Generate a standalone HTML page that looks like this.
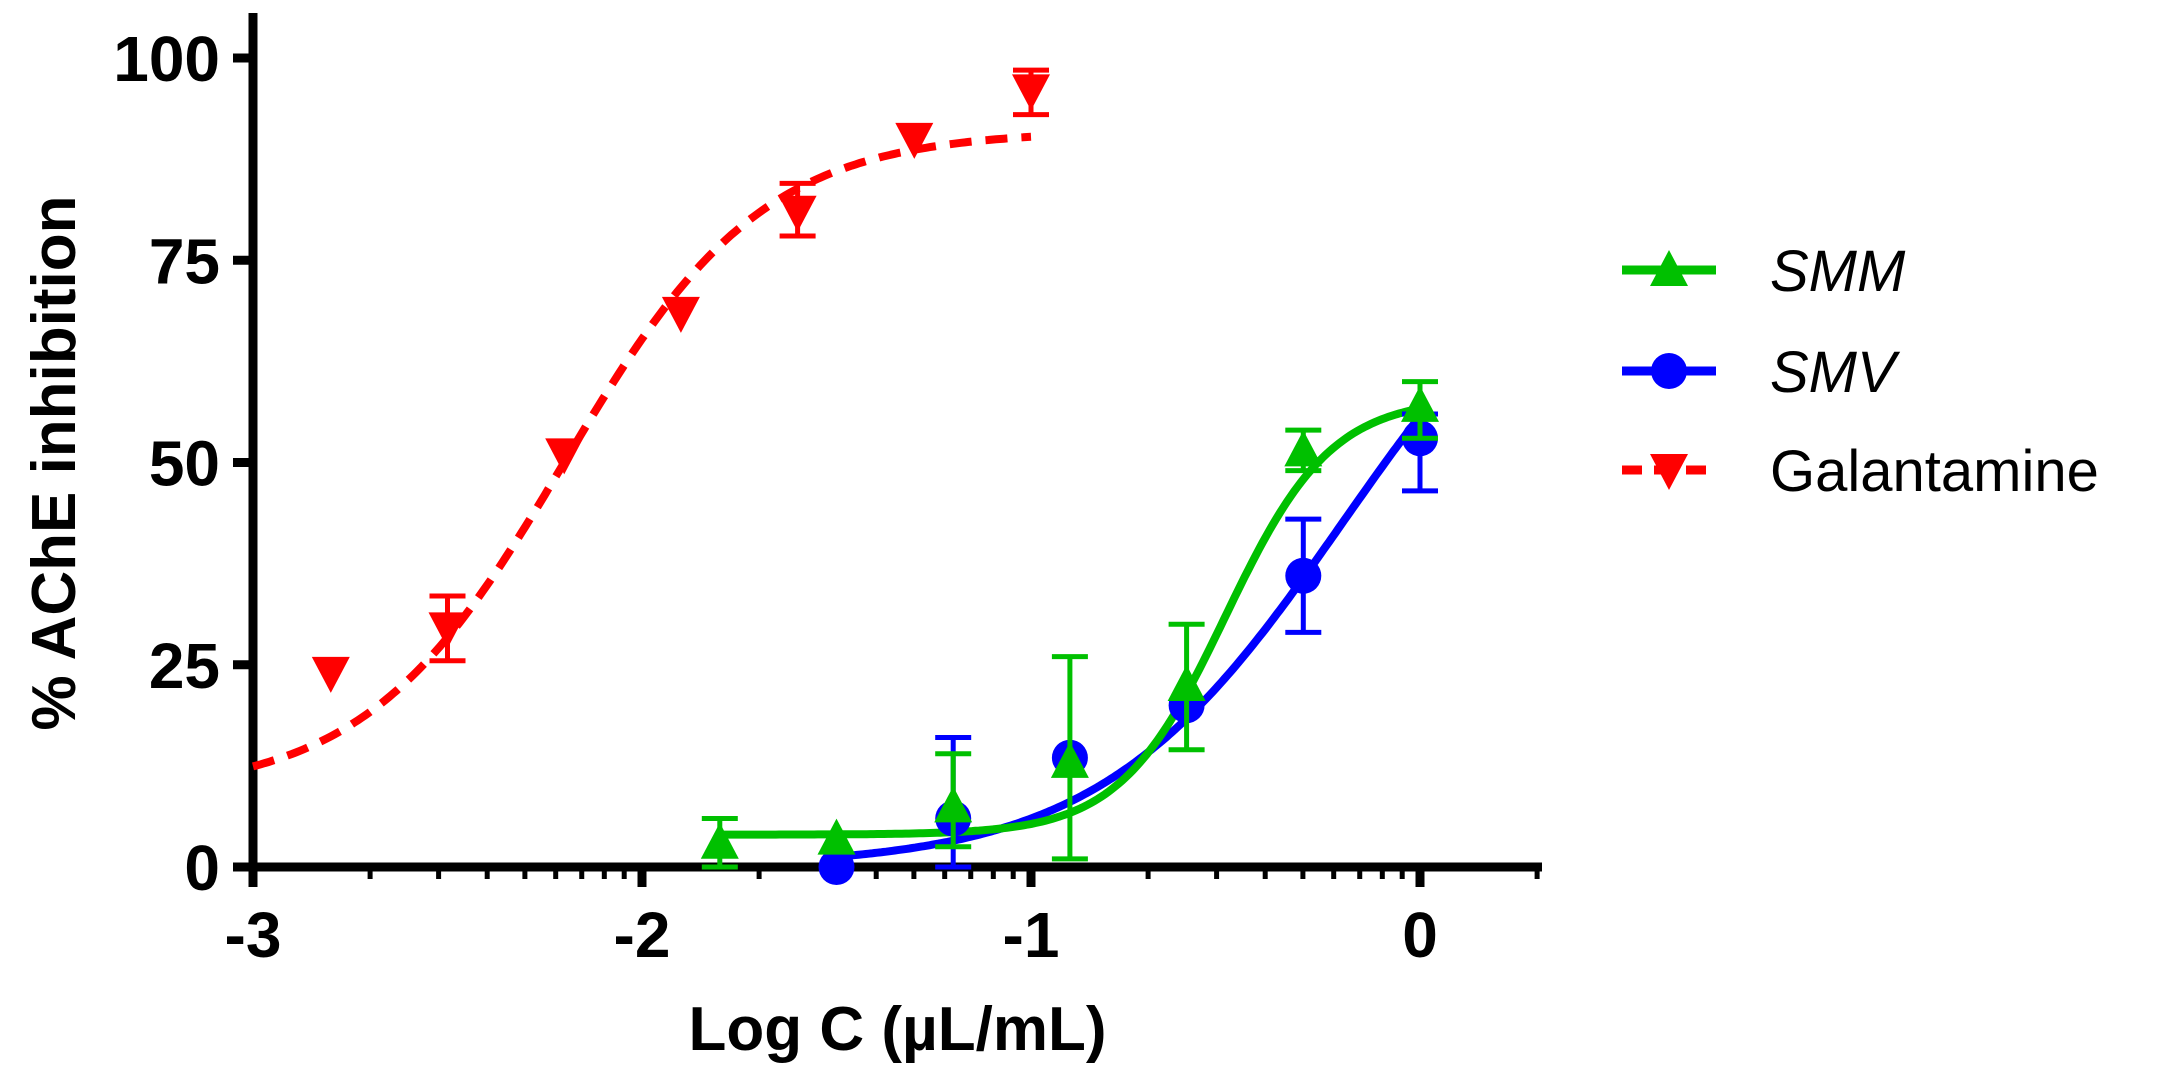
<!DOCTYPE html>
<html><head><meta charset="utf-8"><style>
html,body{margin:0;padding:0;background:#fff}
svg{display:block}
text{font-family:"Liberation Sans",Arial,sans-serif}
</style></head><body>
<svg id="chart" width="2157" height="1077" viewBox="0 0 2157 1077" xmlns="http://www.w3.org/2000/svg">
<g id="axes"></g>
<g id="plot"></g>
<g id="legend"></g>
</svg>
<script>
const xTicks=[-3,-2,-1,0];
const xTickLabels=["-3","-2","-1","0"];
const yTicks=[0,25,50,75,100];
const yTickLabels=["0","25","50","75","100"];
const galX=[-2.8,-2.5,-2.2,-1.9,-1.6,-1.3,-1.0];
const galY=[24,29.5,51,68.5,81,90,96];
const galLo=[24,25.5,51,68.5,78,90,93];
const galHi=[24,33.5,51,68.5,84.5,90,98.5];
const galFit=[9,91,-2.2,1.7];
const smmX=[-1.8,-1.5,-1.2,-0.9,-0.6,-0.3,0];
const smmY=[3,3.5,7.5,13,22.5,51.5,57];
const smmLo=[0,3.5,2.5,1,14.5,49,53];
const smmHi=[6,3.5,14,26,30,54,60];
const smmFit=[4,58,-0.5,3.2];
const smvX=[-1.5,-1.2,-0.9,-0.6,-0.3,0];
const smvY=[0,6,13.5,20,36,53];
const smvLo=[0,0,13.5,20,29,46.5];
const smvHi=[0,16,13.5,20,43,56];
const smvFit=[0,85,-0.2,1.4];

const NS="http://www.w3.org/2000/svg";
const X0=253,X1=1420,Y0=867,Y1=58;
function sx(v){return X0+(v-(-3))*(X1-X0)/3;}
function sy(v){return Y0+(v)*(Y1-Y0)/100;}
function mk(tag,attrs,parent){const e=document.createElementNS(NS,tag);for(const k in attrs)e.setAttribute(k,attrs[k]);parent.appendChild(e);return e;}
const axes=document.getElementById('axes'),plot=document.getElementById('plot'),legend=document.getElementById('legend');

let e;
e=mk('line',{x1:X0,y1:13,x2:X0,y2:Y0+4,stroke:'#000','stroke-width':9},axes);

e=mk('line',{x1:X0-4,y1:Y0,x2:1542,y2:Y0,stroke:'#000','stroke-width':9},axes);

yTicks.forEach((v,i)=>{
  let t=mk('line',{x1:X0-20,y1:sy(v),x2:X0,y2:sy(v),stroke:'#000','stroke-width':9},axes);
  
  let l=mk('text',{x:X0-33,y:sy(v)+23,'text-anchor':'end','font-size':64,'font-weight':'bold'},axes);
  l.textContent=yTickLabels[i];
  
});
xTicks.forEach((v,i)=>{
  let t=mk('line',{x1:sx(v),y1:Y0,x2:sx(v),y2:Y0+20,stroke:'#000','stroke-width':9},axes);
  
  let l=mk('text',{x:sx(v),y:Y0+90,'text-anchor':'middle','font-size':64,'font-weight':'bold'},axes);
  l.textContent=xTickLabels[i];
  
});
for(let d=-3;d<=0;d++){for(let m=2;m<=9;m++){const v=d+Math.log10(m);if(v>0.31)continue;
  let t=mk('line',{x1:sx(v),y1:Y0,x2:sx(v),y2:Y0+12,stroke:'#000','stroke-width':5},axes);
  }}
e=mk('text',{x:(X0+1542)/2,y:1050,'text-anchor':'middle','font-size':62,'font-weight':'bold'},axes);
e.textContent='Log C (µL/mL)';
e=mk('text',{x:0,y:0,'text-anchor':'middle','font-size':62,'font-weight':'bold',transform:'translate(75,463) rotate(-90)'},axes);
e.textContent='% AChE inhibition';

function fit(p,x){return p[0]+(p[1]-p[0])/(1+Math.pow(10,(p[2]-x)*p[3]));}
function curve(p,a,b,color,dash,name){let d='';for(let i=0;i<=200;i++){const x=a+(b-a)*i/200;d+=(i?'L':'M')+sx(x).toFixed(1)+','+sy(fit(p,x)).toFixed(1);}
  const c=mk('path',{d:d,fill:'none',stroke:color,'stroke-width':8,'stroke-dasharray':dash||'none'},plot);
  }
function marker(type,cx,cy,color,parent){
  if(type==='circle')return mk('circle',{cx:cx,cy:cy,r:18,fill:color},parent);
  if(type==='up')return mk('polygon',{points:`${cx},${cy-20} ${cx-19},${cy+16} ${cx+19},${cy+16}`,fill:color},parent);
  return mk('polygon',{points:`${cx},${cy+20} ${cx-19},${cy-16} ${cx+19},${cy-16}`,fill:color},parent);}
function series(xs,ys,lo,hi,color,type,name){xs.forEach((x,i)=>{
  if(hi[i]!==lo[i]){const g=mk('path',{d:`M${sx(x)},${sy(lo[i])}V${sy(hi[i])}M${sx(x)-18},${sy(lo[i])}h36M${sx(x)-18},${sy(hi[i])}h36`,stroke:color,'stroke-width':5,fill:'none'},plot);
    }
  const m=marker(type,sx(x),sy(ys[i]),color,plot);
  });}
curve(galFit,-3,-1,'#ff0000','22,14','galantamine-curve');
curve(smvFit,-1.5,0,'#0000ff',null,'smv-curve');
curve(smmFit,-1.8,0,'#00c000',null,'smm-curve');
series(smvX,smvY,smvLo,smvHi,'#0000ff','circle','smv');
series(smmX,smmY,smmLo,smmHi,'#00c000','up','smm');
series(galX,galY,galLo,galHi,'#ff0000','down','galantamine');

const leg=[['SMM','#00c000','up',270,null,'italic'],['SMV','#0000ff','circle',371,null,'italic'],['Galantamine','#ff0000','down',470,'20,12','normal']];
leg.forEach(r=>{
  const g=mk('g',{},legend);
  const l=mk('line',{x1:1622,y1:r[3],x2:1716,y2:r[3],stroke:r[1],'stroke-width':9,'stroke-dasharray':r[4]||'none'},g);
  
  const m=marker(r[2],1669,r[3],r[1],g);
  const t=mk('text',{x:1770,y:r[3]+21,'font-size':58,'font-style':r[5]},g);t.textContent=r[0];
  
});
</script>
</body></html>
